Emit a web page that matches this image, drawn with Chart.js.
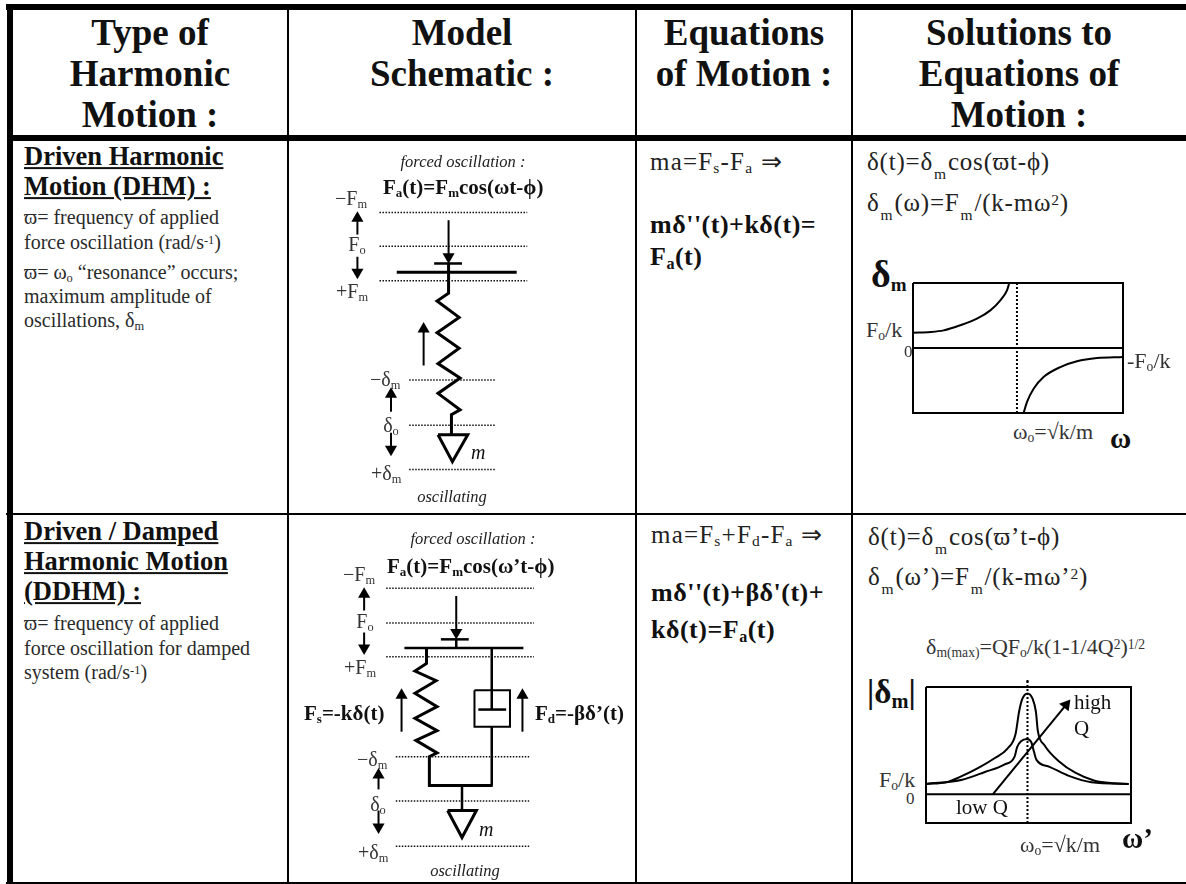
<!DOCTYPE html>
<html lang="en">
<head>
<meta charset="UTF-8">
<title>Harmonic Motion</title>
<script src="https://cdn.jsdelivr.net/npm/chart.js@4"></script>
<style>
  body { margin: 0; background: #fff; }
  #page { position: relative; width: 1186px; height: 884px; overflow: hidden; font-family: "Liberation Serif", serif; color: #111; }
  canvas { position: absolute; }
  .rule { position: absolute; background: #000; }
  .t { position: absolute; white-space: nowrap; transform: translateY(-50%); line-height: 1.2; }
  .c { transform: translate(-50%, -50%); }
  .h { font-size: 37px; font-weight: bold; }
  .tt { font-size: 26.5px; font-weight: bold; text-decoration: underline; }
  .s { font-size: 20px; color: #2a2a2a; }
  .i { font-size: 16.5px; font-style: italic; color: #222; }
  .b { font-size: 21px; font-weight: bold; }
  .m { font-size: 20px; color: #333; }
  .e { font-size: 25px; letter-spacing: 1.2px; color: #222; }
  .eb { font-size: 26px; font-weight: bold; letter-spacing: .5px; }
  .sol { font-size: 25px; letter-spacing: .8px; color: #222; }
  .l { font-size: 22px; color: #333; }
  .z { font-size: 17px; color: #333; }
  .big sub { font-size: .5em; }
  sub, sup { font-size: .62em; line-height: 0; vertical-align: baseline; position: relative; }
  sub { top: .22em; }
  sup { top: -.38em; }
  .sol sub { top: .55em; margin: 0 1px; }
</style>
</head>
<body>
<div id="page">
  <!-- table rules -->
  <div class="rule" style="left:6px;top:4px;width:1180px;height:6px"></div>
  <div class="rule" style="left:7px;top:4px;width:6px;height:880px"></div>
  <div class="rule" style="left:13px;top:135px;width:1173px;height:6px"></div>
  <div class="rule" style="left:6px;top:513px;width:1180px;height:2px"></div>
  <div class="rule" style="left:6px;top:882px;width:1180px;height:2px"></div>
  <div class="rule" style="left:287px;top:4px;width:2px;height:880px"></div>
  <div class="rule" style="left:635px;top:4px;width:2px;height:880px"></div>
  <div class="rule" style="left:851px;top:4px;width:2px;height:880px"></div>

  <canvas id="schem1" width="346" height="372" style="left:289px;top:141px"></canvas>
  <canvas id="schem2" width="346" height="367" style="left:289px;top:515px"></canvas>
  <canvas id="plot1" width="218" height="138" style="left:909px;top:279px"></canvas>
  <canvas id="plot2" width="219" height="150" style="left:919px;top:680px"></canvas>

  <!-- header -->
  <div class="t c h" style="left:150px;top:33px">Type of</div>
  <div class="t c h" style="left:150px;top:74px">Harmonic</div>
  <div class="t c h" style="left:150px;top:115px">Motion :</div>
  <div class="t c h" style="left:462px;top:33px">Model</div>
  <div class="t c h" style="left:462px;top:74px">Schematic :</div>
  <div class="t c h" style="left:744px;top:33px">Equations</div>
  <div class="t c h" style="left:744px;top:74px">of Motion :</div>
  <div class="t c h" style="left:1019px;top:33px">Solutions to</div>
  <div class="t c h" style="left:1019px;top:74px">Equations of</div>
  <div class="t c h" style="left:1019px;top:115px">Motion :</div>

  <!-- first column -->
  <div class="t tt" style="left:24px;top:157px">Driven Harmonic</div>
  <div class="t tt" style="left:24px;top:187px">Motion (DHM) :</div>
  <div class="t s" style="left:24px;top:217px">ϖ= frequency of applied</div>
  <div class="t s" style="left:24px;top:242px">force oscillation (rad/s<sup>-1</sup>)</div>
  <div class="t s" style="left:24px;top:272px">ϖ= ω<sub>o</sub> “resonance” occurs;</div>
  <div class="t s" style="left:24px;top:296px">maximum amplitude of</div>
  <div class="t s" style="left:24px;top:320px">oscillations, δ<sub>m</sub></div>
  <div class="t tt" style="left:24px;top:532px">Driven / Damped</div>
  <div class="t tt" style="left:24px;top:562px">Harmonic Motion</div>
  <div class="t tt" style="left:24px;top:592px">(DDHM) :</div>
  <div class="t s" style="left:24px;top:623px">ϖ= frequency of applied</div>
  <div class="t s" style="left:24px;top:648px">force oscillation for damped</div>
  <div class="t s" style="left:24px;top:672px">system (rad/s<sup>-1</sup>)</div>

  <!-- schematic 1 labels -->
  <div class="t c i" style="left:463px;top:162px">forced oscillation :</div>
  <div class="t b" style="left:383px;top:188px">F<sub>a</sub>(t)=F<sub>m</sub>cos(ωt-ϕ)</div>
  <div class="t m" style="left:335px;top:198px">−F<sub>m</sub></div>
  <div class="t c m" style="left:357px;top:244px">F<sub>o</sub></div>
  <div class="t m" style="left:336px;top:291px">+F<sub>m</sub></div>
  <div class="t m" style="left:370px;top:379px">−δ<sub>m</sub></div>
  <div class="t c m" style="left:391px;top:425px">δ<sub>o</sub></div>
  <div class="t m" style="left:371px;top:473px">+δ<sub>m</sub></div>
  <div class="t m" style="left:471px;top:452px;font-style:italic;color:#111">m</div>
  <div class="t c i" style="left:452px;top:497px">oscillating</div>

  <!-- schematic 2 labels -->
  <div class="t c i" style="left:473px;top:539px">forced oscillation :</div>
  <div class="t b" style="left:387px;top:567px">F<sub>a</sub>(t)=F<sub>m</sub>cos(ω’t-ϕ)</div>
  <div class="t m" style="left:343px;top:574px">−F<sub>m</sub></div>
  <div class="t c m" style="left:365px;top:621px">F<sub>o</sub></div>
  <div class="t m" style="left:344px;top:667px">+F<sub>m</sub></div>
  <div class="t b" style="left:304px;top:714px">F<sub>s</sub>=-kδ(t)</div>
  <div class="t b" style="left:535px;top:714px">F<sub>d</sub>=-βδ’(t)</div>
  <div class="t m" style="left:357px;top:759px">−δ<sub>m</sub></div>
  <div class="t c m" style="left:378px;top:804px">δ<sub>o</sub></div>
  <div class="t m" style="left:358px;top:852px">+δ<sub>m</sub></div>
  <div class="t m" style="left:479px;top:829px;font-style:italic;color:#111">m</div>
  <div class="t c i" style="left:465px;top:871px">oscillating</div>

  <!-- equations -->
  <div class="t e" style="left:650px;top:162px">ma=F<sub>s</sub>-F<sub>a</sub> ⇒</div>
  <div class="t eb" style="left:650px;top:225px">mδ''(t)+kδ(t)=</div>
  <div class="t eb" style="left:650px;top:257px">F<sub>a</sub>(t)</div>
  <div class="t e" style="left:651px;top:535px">ma=F<sub>s</sub>+F<sub>d</sub>-F<sub>a</sub> ⇒</div>
  <div class="t eb" style="left:651px;top:593px">mδ''(t)+βδ'(t)+</div>
  <div class="t eb" style="left:651px;top:630px">kδ(t)=F<sub>a</sub>(t)</div>

  <!-- solutions -->
  <div class="t sol" style="left:867px;top:162px">δ(t)=δ<sub>m</sub>cos(ϖt-ϕ)</div>
  <div class="t sol" style="left:867px;top:203px">δ<sub>m</sub>(ω)=F<sub>m</sub>/(k-mω<sup>2</sup>)</div>
  <div class="t sol" style="left:868px;top:537px">δ(t)=δ<sub>m</sub>cos(ϖ’t-ϕ)</div>
  <div class="t sol" style="left:868px;top:577px">δ<sub>m</sub>(ω’)=F<sub>m</sub>/(k-mω’<sup>2</sup>)</div>

  <!-- plot 1 labels -->
  <div class="t big" style="left:871px;top:275px;font-size:38px;font-weight:bold">δ<sub>m</sub></div>
  <div class="t l" style="left:866px;top:330px">F<sub>o</sub>/k</div>
  <div class="t z" style="left:904px;top:352px">0</div>
  <div class="t l" style="left:1127px;top:361px">-F<sub>o</sub>/k</div>
  <div class="t l" style="left:1013px;top:432px">ω<sub>o</sub>=√k/m</div>
  <div class="t" style="left:1110px;top:438px;font-size:29px;font-weight:bold">ω</div>

  <!-- plot 2 labels -->
  <div class="t l" style="left:926px;top:647px">δ<sub>m(max)</sub>=QF<sub>o</sub>/k(1-1/4Q<sup>2</sup>)<sup>1/2</sup></div>
  <div class="t" style="left:867px;top:693px;font-size:33px;font-weight:bold">|δ<sub>m</sub>|</div>
  <div class="t" style="left:1074px;top:703px;font-size:21px">high</div>
  <div class="t" style="left:1074px;top:729px;font-size:21px">Q</div>
  <div class="t l" style="left:879px;top:780px">F<sub>o</sub>/k</div>
  <div class="t z" style="left:906px;top:799px">0</div>
  <div class="t" style="left:956px;top:808px;font-size:21px">low Q</div>
  <div class="t l" style="left:1020px;top:845px">ω<sub>o</sub>=√k/m</div>
  <div class="t" style="left:1122px;top:838px;font-size:29px;font-weight:bold">ω’</div>
</div>

<script>
// plot 1 : driven response, x = w/w0, y = in units of Fo/k
const plot1LeftX = [0, 0.167, 0.295, 0.455, 0.615, 0.744, 0.84, 0.904, 0.926];
const plot1LeftY = [0.96, 1.0, 1.1, 1.42, 1.83, 2.35, 2.98, 3.6, 4.06];
const plot1RightX = [1.064, 1.096, 1.16, 1.256, 1.417, 1.577, 1.77, 2.02];
const plot1RightY = [-4.06, -3.38, -2.54, -1.81, -1.19, -0.83, -0.63, -0.56];

// plot 2 : damped response, high Q and low Q curves
const highQX = [0.006, 0.197, 0.357, 0.516, 0.675, 0.803, 0.882, 0.917, 0.949, 1.0, 1.051, 1.083, 1.102, 1.169, 1.312, 1.471, 1.662, 1.854, 1.997];
const highQY = [1.0, 1.16, 1.78, 2.56, 3.5, 4.44, 5.84, 8.03, 9.28, 9.81, 9.28, 8.03, 6.16, 4.75, 3.19, 2.09, 1.31, 1.06, 1.0];
const lowQX = [0.006, 0.357, 0.58, 0.771, 0.873, 0.898, 0.936, 0.994, 1.038, 1.064, 1.089, 1.217, 1.408, 1.631, 1.997];
const lowQY = [1.0, 1.41, 2.16, 2.88, 3.66, 4.59, 5.16, 5.38, 5.06, 4.13, 3.34, 2.66, 1.78, 1.16, 1.0];

// schematic 1 (page pixels)
const spring1X = [448, 448, 436, 459, 436, 459, 437, 460, 437, 460, 451, 451];
const spring1Y = [261, 292, 300, 317, 333, 349, 365, 380, 396, 413, 418, 439];
const mass1X = [437, 468, 452, 437];
const mass1Y = [439, 439, 467, 439];

// schematic 2 (page pixels)
const spring2X = [425, 425, 413, 435, 413, 436, 413, 436, 414, 436, 428, 428, 494];
const spring2Y = [646, 662, 670, 680, 693, 707, 719, 732, 742, 755, 759, 789, 789];
const mass2X = [447, 477, 462, 447];
const mass2Y = [815, 815, 843, 815];
const damperBoxX = [475, 512, 512, 475, 475];
const damperBoxY = [690, 690, 728, 728, 690];

function pts(xs, ys) {
  return xs.map(function (x, i) { return { x: x, y: ys[i] }; });
}

function line(xs, ys, width, extra) {
  return Object.assign({
    data: pts(xs, ys), showLine: true, borderColor: '#000', borderWidth: width,
    pointRadius: 0, clip: false, borderJoinStyle: 'miter', fill: false
  }, extra || {});
}

function dotted(x0, x1, y) {
  return line([x0, x1], [y, y], 1.5, { borderDash: [1.5, 1.5], borderColor: '#111' });
}

// arrow with triangular head, (x1, y1) is the centre of the head
function arrow(x0, y0, x1, y1, rot) {
  return line([x0, x1], [y0, y1], 2, {
    pointStyle: 'triangle', pointRadius: [0, 7], pointRotation: [0, rot],
    backgroundColor: '#000', pointBorderWidth: 0, pointBackgroundColor: '#000'
  });
}

function draw(id, xMin, xMax, yMin, yMax, pad, reverse, datasets) {
  return new Chart(document.getElementById(id), {
    type: 'scatter',
    data: { datasets: datasets },
    options: {
      responsive: false,
      animation: false,
      layout: { padding: pad },
      plugins: { legend: { display: false }, tooltip: { enabled: false } },
      scales: {
        x: { type: 'linear', display: false, min: xMin, max: xMax },
        y: { type: 'linear', display: false, min: yMin, max: yMax, reverse: reverse }
      }
    }
  });
}

draw('schem1', 289, 635, 141, 513, 0, true, [
  dotted(376, 530, 208), dotted(376, 530, 243), dotted(376, 530, 279),
  dotted(407, 497, 382), dotted(407, 497, 429), dotted(407, 497, 475),
  line([394, 519], [270, 270], 3),
  line([433, 462], [261, 261], 2.5),
  line(spring1X, spring1Y, 3),
  line(mass1X, mass1Y, 3),
  arrow(448, 216, 448, 254, 180),
  arrow(353, 231, 353, 214, 0),
  arrow(353, 254, 353, 270, 180),
  arrow(422, 367, 422, 329, 0),
  arrow(388, 415, 388, 397, 0),
  arrow(388, 437, 388, 454, 180)
]);

draw('schem2', 289, 635, 515, 882, 0, true, [
  dotted(383, 537, 584), dotted(383, 537, 620), dotted(383, 537, 655),
  dotted(393, 532, 759), dotted(393, 532, 805), dotted(393, 532, 852),
  line([402, 526], [646, 646], 2.5),
  line([440, 469], [637, 637], 2.5),
  line([456, 456], [637, 646], 2.5),
  line(spring2X, spring2Y, 3),
  line([493, 493], [646, 710], 2.5),
  line([479, 508], [710, 710], 2.5),
  line(damperBoxX, damperBoxY, 2),
  line([493, 493], [728, 789], 2.5),
  line([462, 462], [789, 815], 2.5),
  line(mass2X, mass2Y, 3),
  arrow(456, 592, 456, 630, 180),
  arrow(360, 607, 360, 590, 0),
  arrow(360, 630, 360, 646, 180),
  arrow(399, 733, 399, 695, 0),
  arrow(525, 733, 525, 695, 0),
  arrow(375, 793, 375, 778, 0),
  arrow(375, 815, 375, 832, 180)
]);

draw('plot1', 0, 2.02, -4.06, 4.06, 4, false, [
  line([0, 2.02, 2.02, 0, 0], [4.06, 4.06, -4.06, -4.06, 4.06], 2),
  line([0, 2.02], [0, 0], 2),
  line([1, 1], [4.06, -4.06], 2, { borderDash: [2, 2] }),
  line(plot1LeftX, plot1LeftY, 2, { cubicInterpolationMode: 'monotone' }),
  line(plot1RightX, plot1RightY, 2, { cubicInterpolationMode: 'monotone' })
]);

draw('plot2', 0, 2.02, -2.81, 10.44, 4, false, [
  line([0, 2.02, 2.02, 0, 0], [10.44, 10.44, -2.81, -2.81, 10.44], 2),
  line([0, 2.02], [0, 0], 2),
  line([1, 1], [-2.81, 12.2], 2, { borderDash: [2, 2] }),
  line(highQX, highQY, 2, { cubicInterpolationMode: 'monotone' }),
  line(lowQX, lowQY, 2, { cubicInterpolationMode: 'monotone' }),
  arrow(1, 10.9, 1, 12.2, 0),
  arrow(0.66, 0, 1.38, 8.7, 38.5)
]);
</script>
</body>
</html>
